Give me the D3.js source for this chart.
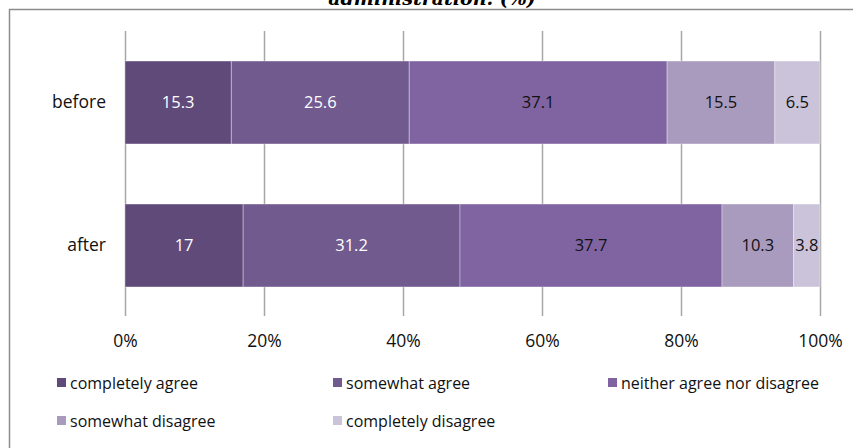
<!DOCTYPE html>
<html>
<head>
<meta charset="utf-8">
<script src="https://cdn.jsdelivr.net/npm/d3@7"></script>
<style>
  html, body { margin: 0; padding: 0; background: #fff; }
  svg { display: block; }
</style>
</head>
<body>
<script>
// Survey answers before / after, as percentages of respondents
const categories = ["before", "after"];
const seriesNames = ["completely agree", "somewhat agree", "neither agree nor disagree", "somewhat disagree", "completely disagree"];
const beforeValues = [15.3, 25.6, 37.1, 15.5, 6.5];
const afterValues = [17, 31.2, 37.7, 10.3, 3.8];
const tickValues = [0, 20, 40, 60, 80, 100];
const seriesColors = ["#5f4a7a", "#715a8e", "#8064a2", "#a99bbe", "#cbc3da"];
const labelColors = ["#ffffff", "#ffffff", "#111111", "#111111", "#111111"];

const W = 853, H = 448;
const font = "'Open Sans', 'Liberation Sans', sans-serif";

const svg = d3.select("body").append("svg").attr("width", W).attr("height", H);

// Outer frame (top and left edges visible)
svg.append("path")
  .attr("d", "M9.5,900 L9.5,9.5 L900,9.5")
  .attr("fill", "none").attr("stroke", "#8c8c8c").attr("stroke-width", 1.5);

// Title (only its lower part falls inside the canvas)
svg.append("text")
  .attr("x", 432).attr("y", 5)
  .attr("text-anchor", "middle")
  .attr("font-family", "'DejaVu Serif', 'Liberation Serif', serif")
  .attr("font-weight", "bold").attr("font-style", "italic")
  .attr("font-size", 19)
  .attr("fill", "#000")
  .text("administration. (%)");

const x = d3.scaleLinear().domain([0, 100]).range([125, 820]);
const y = d3.scaleBand().domain(categories).range([31, 317]).paddingInner(0.42).paddingOuter(0.21);

const rows = [beforeValues, afterValues];
const data = categories.map((c, i) => {
  const o = { category: c };
  seriesNames.forEach((s, j) => o[s] = rows[i][j]);
  return o;
});
const stacked = d3.stack().keys(seriesNames)(data);

// Vertical gridlines
svg.append("g").selectAll("line").data(tickValues).join("line")
  .attr("x1", d => x(d) + 0.5).attr("x2", d => x(d) + 0.5)
  .attr("y1", 31).attr("y2", 316)
  .attr("stroke", "#a6a6a6").attr("stroke-width", 1.5);

// Stacked bars
const layers = svg.append("g").selectAll("g").data(stacked).join("g")
  .attr("fill", (d, i) => seriesColors[i]);
layers.selectAll("rect").data(d => d).join("rect")
  .attr("x", d => x(d[0]))
  .attr("width", d => x(d[1]) - x(d[0]))
  .attr("y", d => y(d.data.category))
  .attr("height", y.bandwidth())
  .attr("stroke", "#ffffff").attr("stroke-opacity", 0.35).attr("stroke-width", 1);

// Value labels
svg.append("g").selectAll("g").data(stacked).join("g")
  .attr("fill", (d, i) => labelColors[i])
  .selectAll("text").data(d => d).join("text")
  .attr("x", d => (x(d[0]) + x(d[1])) / 2)
  .attr("y", d => y(d.data.category) + y.bandwidth() / 2)
  .attr("dy", "0.35em")
  .attr("text-anchor", "middle")
  .attr("font-family", font).attr("font-size", 16.5)
  .text(d => String(+(d[1] - d[0]).toFixed(1)));

// Category axis
const yAxis = svg.append("g").attr("transform", "translate(125,0)")
  .call(d3.axisLeft(y).tickSize(0).tickPadding(19));
yAxis.select(".domain").remove();
yAxis.selectAll("text").attr("font-family", font).attr("font-size", 17.5).attr("fill", "#111");

// Percentage axis
const xAxis = svg.append("g").attr("transform", "translate(0,316)")
  .call(d3.axisBottom(x).tickValues(tickValues).tickFormat(d => d + "%").tickSize(0).tickPadding(19));
xAxis.select(".domain").remove();
xAxis.selectAll("text").attr("font-family", font).attr("font-size", 17.5).attr("fill", "#111");

// Legend
const legendPos = [[57, 383], [333, 383], [608, 383], [57, 421], [333, 421]];
const legend = svg.append("g").selectAll("g").data(seriesNames).join("g")
  .attr("transform", (d, i) => `translate(${legendPos[i][0]},${legendPos[i][1]})`);
legend.append("rect")
  .attr("x", 0).attr("y", -5).attr("width", 9).attr("height", 9)
  .attr("fill", (d, i) => seriesColors[i]);
legend.append("text")
  .attr("x", 13).attr("y", 0).attr("dy", "0.35em")
  .attr("font-family", font).attr("font-size", 16).attr("fill", "#111")
  .text(d => d);
</script>
</body>
</html>
